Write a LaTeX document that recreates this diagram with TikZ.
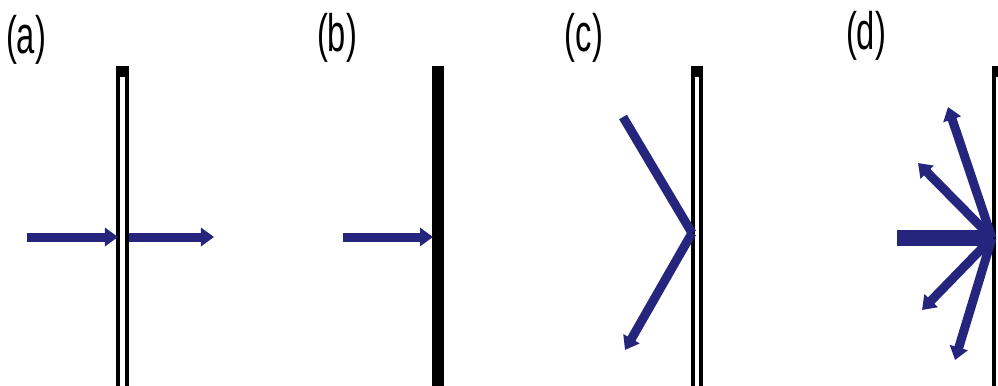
\documentclass[tikz,border=0pt]{standalone}
\usepackage{fontspec}
\setmainfont{Liberation Sans}
\usetikzlibrary{arrows.meta}
\definecolor{raycol}{HTML}{25257E}

\begin{document}
\begin{tikzpicture}[x=0.01cm,y=-0.01cm,
  panellabel/.style={font=\fontsize{15}{18}\selectfont,xscale=0.62,inner sep=0pt},
  hollowwall/.style={draw=black,fill=white,line width=0.04cm},
  solidwall/.style={fill=black},
  beam/.style={draw=raycol,line width=0.09cm,line join=round,-{Triangle[length=0.13cm,width=0.18cm]}},
  widebeam/.style={beam,line width=0.15cm}]
  \useasboundingbox (0,0) rectangle (998,385);
  \clip (0,0) rectangle (998,385);

  % Labels
  \node[panellabel] (la) at (26,40) {(a)};
  \node[panellabel] (lb) at (337,38) {(b)};
  \node[panellabel] (lc) at (584,38) {(c)};
  \node[panellabel] (ld) at (866,36) {(d)};

  % (a) transmission
  \draw[hollowwall] (118,69) rectangle (127,400);
  \fill (116,66) rectangle (129,77);
  \coordinate (a in) at (27,237);
  \coordinate (a hit) at (118,237);
  \coordinate (a out) at (129,237);
  \coordinate (a end) at (214,237);
  \draw[beam] (a in) -- (a hit);
  \draw[beam] (a out) -- (a end);

  % (b) absorption
  \fill[solidwall] (432,66) rectangle (444,400);
  \coordinate (b in) at (343,237);
  \coordinate (b hit) at (433,237);
  \draw[beam] (b in) -- (b hit);

  % (c) specular reflection
  \draw[hollowwall] (693,69) rectangle (701,400);
  \fill (691,66) rectangle (703,77);
  \coordinate (c in) at (623,117);
  \coordinate (c hit) at (692,233);
  \coordinate (c end) at (625,350);
  \draw[beam,-] (c in) -- (c hit);
  \draw[beam] (c hit) -- (c end);

  % (d) diffuse reflection
  \draw[hollowwall] (994,69) rectangle (1004,400);
  \fill (992,66) rectangle (1006,77);
  \coordinate (d in) at (897,238);
  \coordinate (d hit) at (992,238);
  \draw[widebeam,-] (d in) -- (d hit);
  \foreach \ex/\ey [count=\i] in {948/107,918/163,922/310,955/360} {
    \coordinate (d out\i) at (\ex,\ey);
    \draw[beam] (d hit) -- (d out\i);
  }
\end{tikzpicture}
\end{document}
